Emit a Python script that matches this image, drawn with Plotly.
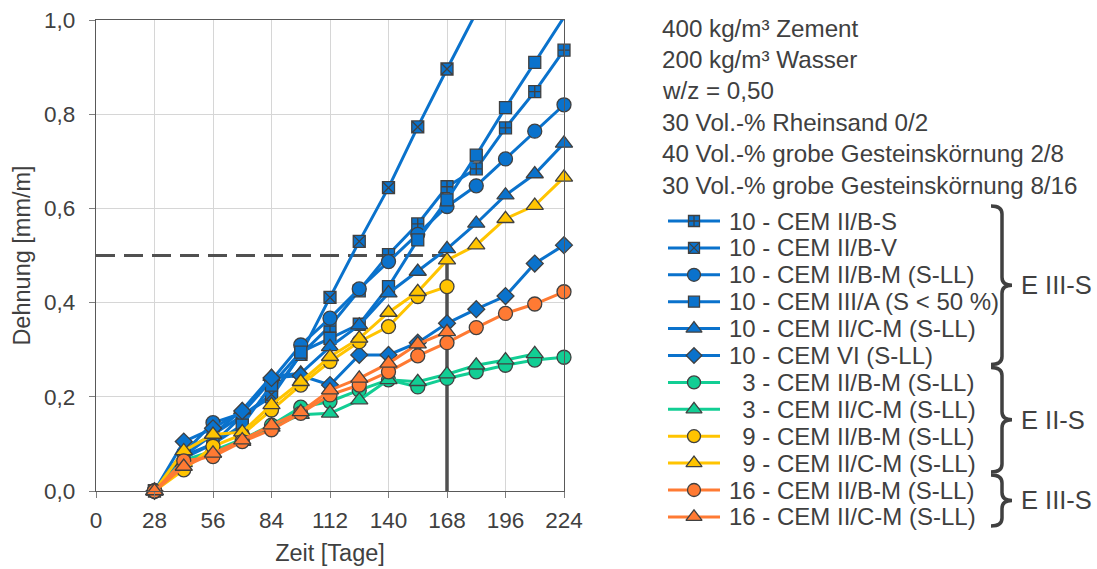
import plotly.graph_objects as go

# ---------------- data ----------------
days = [28, 42, 56, 70, 84, 98, 112, 126, 140, 154, 168, 182, 196, 210, 224]

s_10_IIBS = [0, 0.075, 0.10, 0.16, 0.20, 0.29, 0.35, 0.425, 0.502, 0.567, 0.646, 0.684, 0.771, 0.848, 0.936]
s_10_IIBV = [0, 0.075, 0.12, 0.16, 0.205, 0.29, 0.411, 0.53, 0.644, 0.773, 0.896, 1.016]
s_10_IIBM = [0, 0.08, 0.145, 0.165, 0.235, 0.31, 0.367, 0.429, 0.487, 0.545, 0.604, 0.648, 0.705, 0.764, 0.82]
s_10_IIIA = [0, 0.07, 0.10, 0.14, 0.225, 0.295, 0.324, 0.354, 0.434, 0.533, 0.618, 0.713, 0.814, 0.91, 1.006]
s_10_IICM = [0, 0.085, 0.12, 0.172, 0.243, 0.25, 0.306, 0.352, 0.42, 0.466, 0.514, 0.568, 0.628, 0.673, 0.738]
s_10_VI = [0, 0.105, 0.133, 0.17, 0.24, 0.245, 0.225, 0.289, 0.289, 0.315, 0.356, 0.386, 0.414, 0.483, 0.522]
s_3_IIBM = [0, 0.065, 0.085, 0.11, 0.14, 0.178, 0.19, 0.214, 0.236, 0.221, 0.239, 0.253, 0.267, 0.278, 0.284]
s_3_IICM = [0, 0.06, 0.08, 0.105, 0.135, 0.162, 0.165, 0.193, 0.236, 0.232, 0.248, 0.267, 0.278, 0.291]
s_9_IIBM = [0, 0.045, 0.095, 0.12, 0.172, 0.225, 0.275, 0.317, 0.349, 0.413, 0.434]
s_9_IICM = [0, 0.085, 0.12, 0.125, 0.183, 0.232, 0.285, 0.324, 0.379, 0.423, 0.49, 0.522, 0.578, 0.606, 0.666]
s_16_IIBM = [0, 0.064, 0.073, 0.105, 0.13, 0.165, 0.204, 0.225, 0.253, 0.287, 0.315, 0.347, 0.377, 0.397, 0.423]
s_16_IICM = [0, 0.052, 0.08, 0.108, 0.14, 0.168, 0.214, 0.239, 0.271, 0.312, 0.338]

names = [
    "10 - CEM II/B-S",
    "10 - CEM II/B-V",
    "10 - CEM II/B-M (S-LL)",
    "10 - CEM III/A (S < 50 %)",
    "10 - CEM II/C-M (S-LL)",
    "10 - CEM VI (S-LL)",
    "\u20073 - CEM II/B-M (S-LL)",
    "\u20073 - CEM II/C-M (S-LL)",
    "\u20079 - CEM II/B-M (S-LL)",
    "\u20079 - CEM II/C-M (S-LL)",
    "16 - CEM II/B-M (S-LL)",
    "16 - CEM II/C-M (S-LL)",
]
series = [s_10_IIBS, s_10_IIBV, s_10_IIBM, s_10_IIIA, s_10_IICM, s_10_VI,
          s_3_IIBM, s_3_IICM, s_9_IIBM, s_9_IICM, s_16_IIBM, s_16_IICM]

BLUE, GREEN, YELLOW, ORANGE = "#0A72CC", "#12CE94", "#FFC400", "#FF7A33"
colors = [BLUE] * 6 + [GREEN, GREEN, YELLOW, YELLOW, ORANGE, ORANGE]
symbols = ["square-cross", "square-x", "circle", "square", "triangle-up", "diamond",
           "circle", "triangle-up", "circle", "triangle-up", "circle", "triangle-up"]
sizes = {"square-cross": 12, "square-x": 12, "circle": 14, "square": 12,
         "triangle-up": 15, "diamond": 13}

info_lines = ["400 kg/m³ Zement", "200 kg/m³ Wasser", "w/z = 0,50",
              "30 Vol.-% Rheinsand 0/2", "40 Vol.-% grobe Gesteinskörnung 2/8",
              "30 Vol.-% grobe Gesteinskörnung 8/16"]
groups = [("E III-S", 0, 5), ("E II-S", 6, 9), ("E III-S", 10, 11)]

ref_h_x, ref_h_y = [0, 168], [0.5, 0.5]
ref_v_x, ref_v_y = [168, 168], [0, 0.5]

x_ticks = list(range(0, 225, 28))
y_ticks = [0, 0.2, 0.4, 0.6, 0.8, 1.0]

# ---------------- layout constants (pixels) ----------------
W, H = 1097, 569
PL, PR, PT, PB = 96, 564, 20, 491
FONT = "Liberation Sans, Arial, sans-serif"
TXT = "#404040"
MLINE = dict(color="#404040", width=1.3)

fig = go.Figure()

fig.add_trace(go.Scatter(x=ref_h_x, y=ref_h_y, mode="lines", showlegend=False,
                         line=dict(color="#505050", width=3, dash="19px,9px"),
                         hoverinfo="skip"))
fig.add_trace(go.Scatter(x=ref_v_x, y=ref_v_y, mode="lines", showlegend=False,
                         line=dict(color="#505050", width=3.5), hoverinfo="skip"))

for name, vals, col, sym in zip(names, series, colors, symbols):
    over = max(vals) > 1.0
    fig.add_trace(go.Scatter(
        x=days[:len(vals)], y=vals, mode="lines+markers", name=name,
        showlegend=False, cliponaxis=over,
        line=dict(color=col, width=3),
        marker=dict(symbol=sym, size=sizes[sym], color=col, line=MLINE),
    ))

# ---------- custom legend in pixel space (x2/y2) ----------
LEG_Y0, LEG_DY = 221, 26.9
for i, (name, col, sym) in enumerate(zip(names, colors, symbols)):
    yy = LEG_Y0 + LEG_DY * i
    fig.add_trace(go.Scatter(x=[668, 720], y=[yy, yy], mode="lines", xaxis="x2", yaxis="y2",
                             line=dict(color=col, width=3), showlegend=False, hoverinfo="skip"))
    fig.add_trace(go.Scatter(x=[694], y=[yy], mode="markers", xaxis="x2", yaxis="y2",
                             marker=dict(symbol=sym, size=sizes[sym] - 1, color=col, line=MLINE),
                             showlegend=False, hoverinfo="skip", cliponaxis=False))

annotations = []
for i, name in enumerate(names):
    annotations.append(dict(x=727, y=LEG_Y0 + LEG_DY * i, xref="x2", yref="y2", text=name,
                            showarrow=False, xanchor="left", yanchor="middle",
                            font=dict(family=FONT, size=24, color=TXT)))
for i, t in enumerate(info_lines):
    annotations.append(dict(x=660, y=28 + 31.4 * i, xref="x2", yref="y2", text=t,
                            showarrow=False, xanchor="left", yanchor="middle",
                            font=dict(family=FONT, size=24.2, color=TXT)))

shapes = []
def brace(top, bot, x0=991, xm=1002, tip=1012, r=8):
    c = (top + bot) / 2
    return (f"M{x0},{top} Q{xm},{top} {xm},{top + r} L{xm},{c - r} "
            f"Q{xm},{c} {tip},{c} Q{xm},{c} {xm},{c + r} L{xm},{bot - r} "
            f"Q{xm},{bot} {x0},{bot}")

for label, i0, i1 in groups:
    top = LEG_Y0 + LEG_DY * i0 - 15
    bot = LEG_Y0 + LEG_DY * i1 + 9
    shapes.append(dict(type="path", path=brace(top, bot), xref="x2", yref="y2",
                       line=dict(color="#404040", width=3.5)))
    annotations.append(dict(x=1019, y=(top + bot) / 2, xref="x2", yref="y2", text=label,
                            showarrow=False, xanchor="left", yanchor="middle",
                            font=dict(family=FONT, size=25.5, color=TXT)))

axis_common = dict(showline=True, linecolor="#595959", linewidth=1.3, mirror=True,
                   showgrid=True, gridcolor="#D6D6D6", gridwidth=1.2,
                   ticks="outside", ticklen=6, tickcolor="#7F7F7F", tickwidth=1.2,
                   zeroline=False, tickfont=dict(family=FONT, size=22.5, color=TXT),
                   fixedrange=True, automargin=False)

fig.update_layout(
    width=W, height=H, margin=dict(l=0, r=0, t=0, b=0, pad=0, autoexpand=False),
    paper_bgcolor="white", plot_bgcolor="rgba(0,0,0,0)", separators=", ",
    font=dict(family=FONT, color=TXT),
    xaxis=dict(domain=[PL / W, PR / W], range=[0, 224], tickvals=x_ticks,
               ticklabelstandoff=3,
               title=dict(text="Zeit [Tage]", font=dict(family=FONT, size=23.5, color=TXT), standoff=12),
               anchor="y", **axis_common),
    yaxis=dict(domain=[(H - PB) / H, (H - PT) / H], range=[0, 1], tickvals=y_ticks,
               tickformat=".1f", ticklabelstandoff=9,
               title=dict(text="Dehnung [mm/m]", font=dict(family=FONT, size=23.5, color=TXT), standoff=6),
               anchor="x", **axis_common),
    xaxis2=dict(domain=[0, 1], range=[0, W], visible=False, anchor="y2", fixedrange=True,
                automargin=False),
    yaxis2=dict(domain=[0, 1], range=[H, 0], visible=False, anchor="x2", fixedrange=True,
                automargin=False),
    annotations=annotations, shapes=shapes, showlegend=False,
)

fig.write_html("out.html")
